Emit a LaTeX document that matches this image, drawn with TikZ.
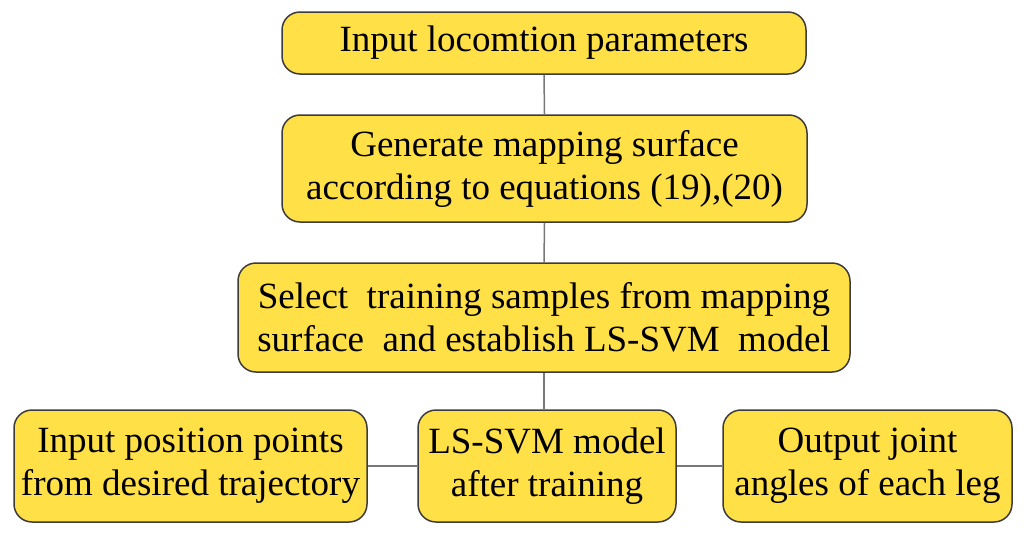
\documentclass[tikz,border=0pt]{standalone}
\usepackage{fontspec}
\setmainfont{Liberation Serif}
\usepackage{xcolor}
\definecolor{stepboxfill}{RGB}{255,224,70}
\definecolor{stepboxdraw}{RGB}{60,60,60}
\definecolor{linkdraw}{RGB}{120,120,120}
\usetikzlibrary{positioning}

\begin{document}
\begin{tikzpicture}[
  x=1pt, y=-1pt,
  every node/.style={align=center, inner sep=0pt, font=\fontsize{37}{43}\selectfont},
  stepbox/.style={rectangle, rounded corners=18pt, draw=stepboxdraw, line width=1.5pt, fill=stepboxfill},
  link/.style={line width=1.5pt, draw=linkdraw}
]
\useasboundingbox (0,0) rectangle (1024,536);

\node[stepbox, minimum width=524pt, minimum height=62pt]  (input)  at (544,43)    {Input locomtion parameters};
\node[stepbox, minimum width=525pt, minimum height=107pt] (surf)   at (544.5,168.5) {Generate mapping surface\\according to equations (19),(20)};
\node[stepbox, minimum width=612pt, minimum height=109pt] (train)  at (544,317.5) {Select~ training samples from mapping\\surface~ and establish LS-SVM~ model};

\node[stepbox, minimum width=353pt, minimum height=112pt] (points) at (190.5,466) {Input position points\\from desired trajectory};
\node[stepbox, minimum width=258pt, minimum height=112pt] (model)  at (547,466)   {LS-SVM model\\after training};
\node[stepbox, minimum width=289pt, minimum height=112pt] (angles) at (867.5,466) {Output joint\\angles of each leg};

\draw[link] (input.south) -- (surf.north);
\draw[link] (surf.south) -- (train.north);
\draw[link] (train.south) -- (train.south |- model.north);
\draw[link] (points.east) -- (model.west);
\draw[link] (model.east) -- (angles.west);

\end{tikzpicture}
\end{document}
